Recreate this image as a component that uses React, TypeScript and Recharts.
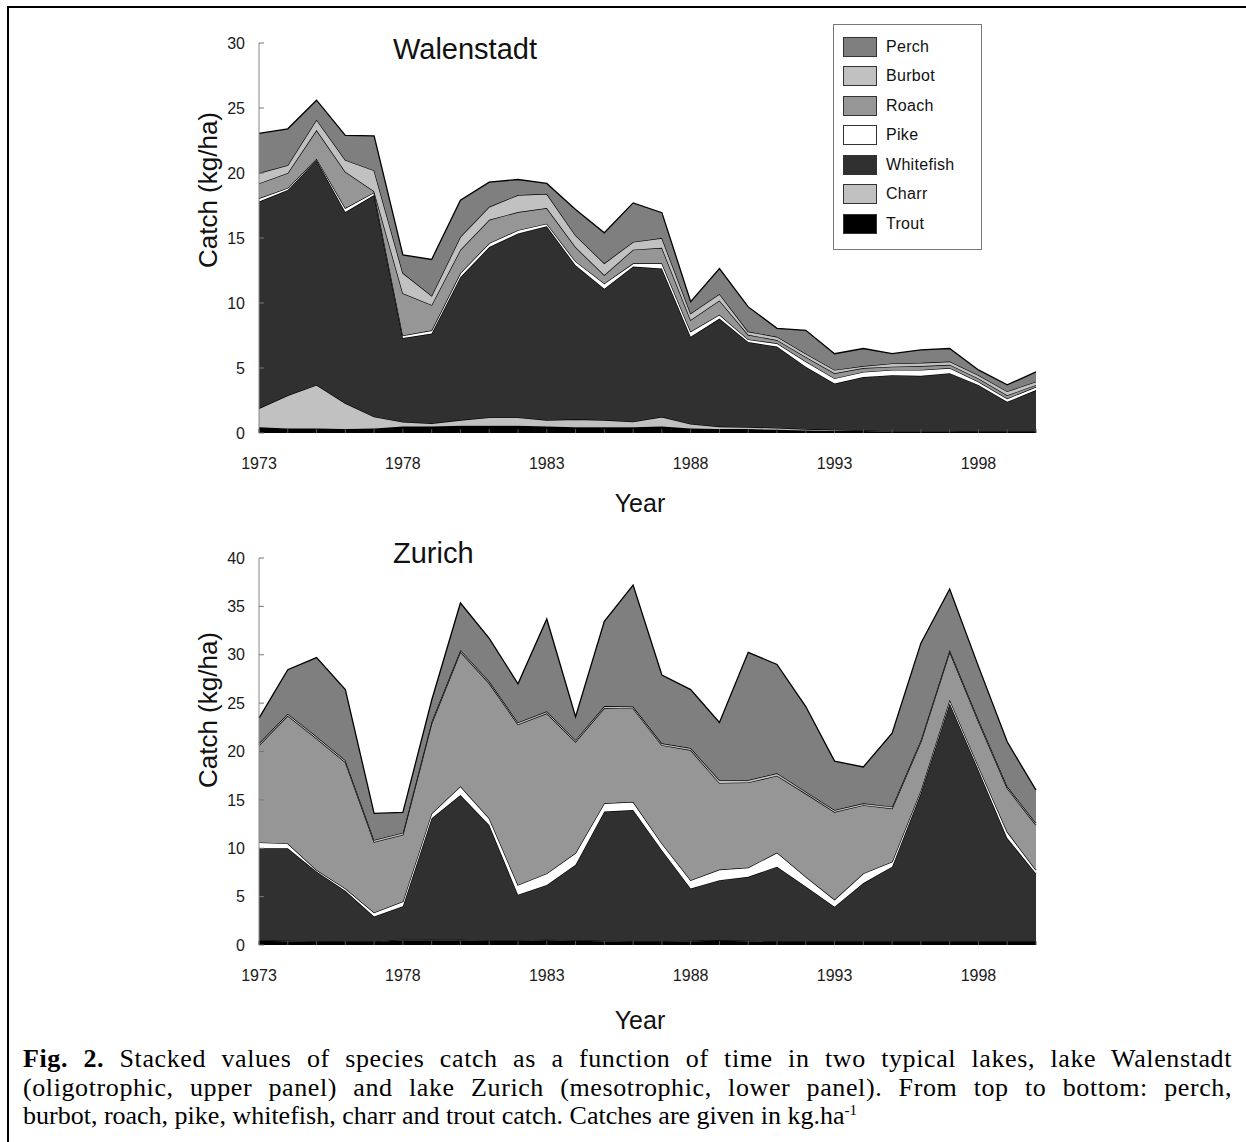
import { AreaChart, Area, XAxis, YAxis, Legend } from 'recharts';

const YEARS = [
  1973, 1974, 1975, 1976, 1977, 1978, 1979, 1980, 1981, 1982, 1983, 1984, 1985, 1986,
  1987, 1988, 1989, 1990, 1991, 1992, 1993, 1994, 1995, 1996, 1997, 1998, 1999, 2000,
];
const LABEL_YEARS = [1973, 1978, 1983, 1988, 1993, 1998];

// stack order, bottom first
const SPECIES = ['Trout', 'Charr', 'Whitefish', 'Pike', 'Roach', 'Burbot', 'Perch'];

const FILLS: Record<string, string> = {
  Perch: '#7f7f7f',
  Burbot: '#c1c1c1',
  Roach: '#969696',
  Pike: '#ffffff',
  Whitefish: '#303030',
  Charr: '#c1c1c1',
  Trout: '#000000',
};

// Walenstadt (kg/ha)
const walTrout = [0.44, 0.35, 0.35, 0.3, 0.35, 0.5, 0.5, 0.55, 0.55, 0.55, 0.5, 0.45, 0.45, 0.45, 0.5, 0.35, 0.3, 0.3, 0.25, 0.2, 0.15, 0.15, 0.1, 0.1, 0.1, 0.1, 0.1, 0.1];
const walCharr = [1.46, 2.55, 3.35, 2.0, 0.9, 0.35, 0.25, 0.45, 0.65, 0.65, 0.5, 0.6, 0.55, 0.42, 0.75, 0.35, 0.2, 0.15, 0.15, 0.1, 0.1, 0.05, 0.05, 0.05, 0.05, 0.02, 0.02, 0.02];
const walWhitefish = [15.9, 15.8, 17.3, 14.7, 17.05, 6.45, 6.9, 11.0, 13.1, 14.15, 14.9, 11.85, 10.1, 11.93, 11.4, 6.7, 8.3, 6.55, 6.25, 4.8, 3.55, 4.1, 4.3, 4.25, 4.45, 3.58, 2.28, 3.18];
const walPike = [0.25, 0.15, 0.1, 0.3, 0.2, 0.2, 0.25, 0.3, 0.3, 0.25, 0.2, 0.3, 0.4, 0.25, 0.4, 0.4, 0.3, 0.2, 0.25, 0.4, 0.4, 0.4, 0.4, 0.45, 0.4, 0.25, 0.25, 0.25];
const walRoach = [1.15, 1.15, 2.2, 2.8, 0.1, 3.25, 1.95, 1.8, 1.8, 1.4, 1.2, 1.1, 0.65, 1.05, 1.2, 0.9, 1.1, 0.35, 0.25, 0.35, 0.4, 0.3, 0.25, 0.3, 0.25, 0.25, 0.25, 0.15];
const walBurbot = [0.8, 0.6, 0.8, 0.9, 1.6, 1.55, 0.7, 1.0, 1.0, 1.3, 1.1, 0.9, 0.9, 0.6, 0.75, 0.5, 0.5, 0.25, 0.25, 0.25, 0.25, 0.15, 0.25, 0.25, 0.25, 0.25, 0.3, 0.25];
const walPerch = [3.05, 2.8, 1.5, 1.9, 2.65, 1.4, 2.8, 2.8, 1.9, 1.2, 0.8, 2.0, 2.35, 3.0, 1.95, 0.9, 1.95, 1.9, 0.65, 1.8, 1.25, 1.35, 0.75, 1.0, 1.0, 0.4, 0.5, 0.75];

// Zurich (kg/ha)
const zurTrout = [0.45, 0.4, 0.35, 0.3, 0.3, 0.5, 0.5, 0.5, 0.45, 0.45, 0.5, 0.45, 0.4, 0.35, 0.35, 0.4, 0.45, 0.4, 0.35, 0.3, 0.3, 0.3, 0.3, 0.3, 0.3, 0.3, 0.3, 0.3];
const zurCharr = [0.05, 0.05, 0.05, 0.05, 0.05, 0.05, 0.05, 0.05, 0.05, 0.05, 0.05, 0.05, 0.05, 0.05, 0.05, 0.05, 0.05, 0.05, 0.05, 0.05, 0.05, 0.05, 0.05, 0.05, 0.05, 0.05, 0.05, 0.05];
const zurWhitefish = [9.5, 9.55, 7.2, 5.25, 2.6, 3.45, 12.55, 14.95, 11.9, 4.7, 5.65, 7.8, 13.35, 13.55, 9.4, 5.4, 6.2, 6.6, 7.7, 5.7, 3.6, 6.05, 7.75, 15.35, 24.65, 17.75, 10.7, 7.05];
const zurPike = [0.6, 0.5, 0.15, 0.25, 0.4, 0.5, 0.5, 0.9, 0.7, 1.0, 1.2, 1.2, 0.85, 0.85, 0.7, 0.85, 1.1, 0.95, 1.45, 1.0, 0.75, 1.0, 0.5, 0.3, 0.35, 0.35, 0.65, 0.35];
const zurRoach = [10.05, 13.2, 13.6, 13.05, 7.3, 6.9, 9.3, 13.9, 13.95, 16.6, 16.55, 11.5, 9.85, 9.65, 10.15, 13.45, 8.95, 8.8, 7.95, 8.6, 9.05, 7.05, 5.5, 5.0, 4.95, 4.65, 4.5, 4.65];
const zurBurbot = [0.2, 0.2, 0.2, 0.2, 0.2, 0.2, 0.2, 0.2, 0.2, 0.2, 0.2, 0.2, 0.2, 0.2, 0.2, 0.2, 0.3, 0.25, 0.25, 0.2, 0.2, 0.2, 0.2, 0.2, 0.2, 0.2, 0.2, 0.2];
const zurPerch = [2.6, 4.55, 8.15, 7.3, 2.75, 2.1, 2.2, 4.85, 4.45, 4.0, 9.55, 2.4, 8.75, 12.55, 7.05, 6.05, 5.95, 13.2, 11.25, 8.8, 5.05, 3.75, 7.6, 10.0, 6.3, 5.5, 4.6, 3.4];

const WAL_TICKS = [0, 5, 10, 15, 20, 25, 30];
const ZUR_TICKS = [0, 5, 10, 15, 20, 25, 30, 35, 40];

function buildRows(cols: number[][]) {
  return YEARS.map((year, i) => {
    const row: Record<string, number> = { year };
    SPECIES.forEach((s, k) => {
      row[s] = cols[k][i];
    });
    return row;
  });
}

const walData = buildRows([walTrout, walCharr, walWhitefish, walPike, walRoach, walBurbot, walPerch]);
const zurData = buildRows([zurTrout, zurCharr, zurWhitefish, zurPike, zurRoach, zurBurbot, zurPerch]);

const X_GAP = 30;
const Y_GAP = 14;
const FONT = '"Liberation Sans", Arial, sans-serif';

const XTick = (props: any) => {
  const { x, y, payload } = props;
  const axisY = y - X_GAP;
  return (
    <g>
      <line x1={x} x2={x} y1={axisY} y2={axisY - 4} stroke="#555" strokeWidth={1} />
      {LABEL_YEARS.includes(payload.value) && (
        <text x={x} y={y} dy="0.355em" textAnchor="middle" fontSize={16} fill="#1a1a1a" fontFamily={FONT}>
          {payload.value}
        </text>
      )}
    </g>
  );
};

const YTick = (props: any) => {
  const { x, y, payload } = props;
  const axisX = x + Y_GAP;
  return (
    <g>
      <line x1={axisX} x2={axisX + 5} y1={y} y2={y} stroke="#777" strokeWidth={1} />
      <text x={x} y={y} dy="0.355em" textAnchor="end" fontSize={16} fill="#1a1a1a" fontFamily={FONT}>
        {payload.value}
      </text>
    </g>
  );
};

const LegendBox = () => (
  <div
    style={{
      width: 149,
      height: 226,
      border: '1.5px solid #777',
      background: '#fff',
      boxSizing: 'border-box',
      paddingTop: 7,
      paddingLeft: 9,
    }}
  >
    {[...SPECIES].reverse().map((s) => (
      <div key={s} style={{ display: 'flex', alignItems: 'center', height: 29.5 }}>
        <div
          style={{
            width: 34,
            height: 20,
            boxSizing: 'border-box',
            border: '1.5px solid #333',
            background: FILLS[s],
          }}
        />
        <span style={{ marginLeft: 9, fontSize: 16, color: '#111', fontFamily: FONT, letterSpacing: 0.3 }}>{s}</span>
      </div>
    ))}
  </div>
);

interface LakeProps {
  data: Record<string, number>[];
  max: number;
  ticks: number[];
  height: number;
  marginTop: number;
  marginBottom: number;
  legend?: boolean;
}

function LakeChart({ data, max, ticks, height, marginTop, marginBottom, legend }: LakeProps) {
  return (
    <AreaChart
      width={1100}
      height={height}
      data={data}
      margin={{ top: marginTop, right: 64, left: 199, bottom: marginBottom }}
    >
      {SPECIES.map((s) => (
        <Area
          key={s}
          type="linear"
          dataKey={s}
          stackId="a"
          stroke="#000"
          strokeWidth={1.3}
          fill={FILLS[s]}
          fillOpacity={1}
          dot={false}
          activeDot={false}
          isAnimationActive={false}
        />
      ))}
      <XAxis
        dataKey="year"
        type="number"
        domain={[1973, 2000]}
        ticks={YEARS}
        interval={0}
        height={30}
        tickSize={0}
        tickMargin={X_GAP}
        axisLine={false}
        tick={<XTick />}
      />
      <YAxis
        type="number"
        domain={[0, max]}
        ticks={ticks}
        interval={0}
        width={60}
        tickSize={0}
        tickMargin={Y_GAP}
        axisLine={{ stroke: '#888', strokeWidth: 1 }}
        tick={<YTick />}
      />
      {legend && (
        <Legend
          layout="vertical"
          align="center"
          verticalAlign="middle"
          content={<LegendBox />}
          wrapperStyle={{ left: 833, top: 24, width: 149, height: 226 }}
        />
      )}
    </AreaChart>
  );
}

export default function App() {
  const textProps = { fontFamily: FONT, fill: '#111' };
  return (
    <div style={{ position: 'relative', width: 1246, height: 1142, background: '#fff', overflow: 'hidden' }}>
      <style>{'body{margin:0}'}</style>
      <div
        style={{
          position: 'absolute',
          left: 7,
          top: 6,
          width: 1300,
          height: 1200,
          borderTop: '2px solid #000',
          borderLeft: '2px solid #000',
        }}
      />
      <div style={{ position: 'absolute', left: 0, top: 0 }}>
        <LakeChart data={walData} max={30} ticks={WAL_TICKS} height={500} marginTop={43} marginBottom={37} legend />
      </div>
      <div style={{ position: 'absolute', left: 0, top: 500 }}>
        <LakeChart data={zurData} max={40} ticks={ZUR_TICKS} height={520} marginTop={58} marginBottom={45} />
      </div>
      <svg width={1246} height={1142} style={{ position: 'absolute', left: 0, top: 0, pointerEvents: 'none' }}>
        <text x={393} y={59} fontSize={29} {...textProps}>Walenstadt</text>
        <text x={393} y={563} fontSize={29} {...textProps}>Zurich</text>
        <text transform="translate(217,190) rotate(-90)" textAnchor="middle" fontSize={26} {...textProps}>
          Catch (kg/ha)
        </text>
        <text transform="translate(217,710) rotate(-90)" textAnchor="middle" fontSize={26} {...textProps}>
          Catch (kg/ha)
        </text>
        <text x={640} y={512} textAnchor="middle" fontSize={25} {...textProps}>Year</text>
        <text x={640} y={1029} textAnchor="middle" fontSize={25} {...textProps}>Year</text>
      </svg>
      <div
        style={{
          position: 'absolute',
          left: 23,
          top: 1045,
          width: 1209,
          fontFamily: '"Liberation Serif", "Times New Roman", serif',
          fontSize: 26,
          lineHeight: '28.5px',
          color: '#000',
        }}
      >
        <div style={{ textAlign: 'justify', textAlignLast: 'justify', letterSpacing: 0.6 }}>
          <b>Fig. 2.</b> Stacked values of species catch as a function of time in two typical lakes, lake Walenstadt
        </div>
        <div style={{ textAlign: 'justify', textAlignLast: 'justify', letterSpacing: 0.6 }}>
          (oligotrophic, upper panel) and lake Zurich (mesotrophic, lower panel). From top to bottom: perch,
        </div>
        <div>
          burbot, roach, pike, whitefish, charr and trout catch. Catches are given in kg.ha
          <sup style={{ fontSize: 15, verticalAlign: 'top', position: 'relative', top: -6 }}>-1</sup>
        </div>
      </div>
    </div>
  );
}
